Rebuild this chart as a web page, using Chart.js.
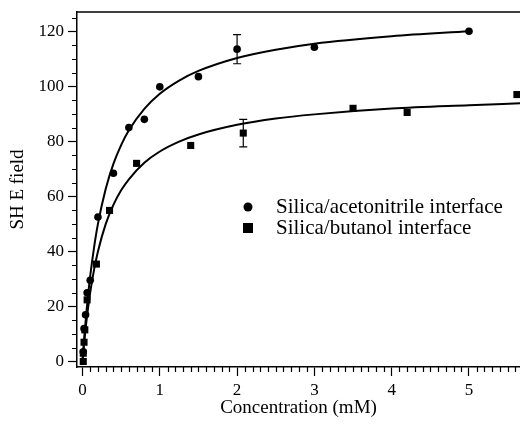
<!DOCTYPE html>
<html>
<head>
<meta charset="utf-8">
<script src="https://cdn.jsdelivr.net/npm/chart.js@4.4.1/dist/chart.umd.min.js"></script>
<style>
  html, body { margin: 0; padding: 0; background: #fff; }
  #wrap { width: 520px; height: 424px; }
</style>
</head>
<body>
<div id="wrap"><canvas id="shg" width="520" height="424"></canvas></div>
<script>
// measured points (concentration in mM, SH E field)
const acetoX   = [0.01, 0.02, 0.04, 0.06, 0.1, 0.2, 0.4, 0.6, 0.8, 1.0, 1.5, 2.0, 3.0, 5.0];
const acetoY   = [3.5, 12, 17, 25, 29.5, 52.5, 68.4, 85, 88, 99.8, 103.5, 113.5, 114.2, 120];
const acetoErr = [0, 0, 0, 0, 0, 0, 0, 0, 0, 0, 0, 5.3, 0, 0];

const butX   = [0.01, 0.01, 0.02, 0.03, 0.06, 0.18, 0.35, 0.7, 1.4, 2.08, 3.5, 4.2, 5.62];
const butY   = [0, 3, 7, 11.5, 22.4, 35.4, 54.9, 72, 78.5, 83, 92, 90.5, 97];
const butErr = [0, 0, 0, 0, 0, 0, 0, 0, 0, 5, 0, 0, 0];

// fitted isotherm curves
const fitX       = [0, 0.025, 0.05, 0.1, 0.15, 0.2, 0.3, 0.4, 0.5, 0.6, 0.8, 1.0, 1.25, 1.5, 2.0, 2.5, 3.0, 4.0, 5.0];
const acetoFit   = [0, 9.5, 17.7, 31.1, 41.5, 50.0, 62.7, 71.8, 78.6, 84.0, 91.8, 97.3, 102.1, 105.6, 110.3, 113.3, 115.5, 118.2, 120.0];
const butFitX    = [0, 0.025, 0.05, 0.1, 0.15, 0.2, 0.3, 0.4, 0.5, 0.6, 0.8, 1.0, 1.25, 1.5, 2.0, 2.5, 3.0, 4.0, 5.0, 5.66];
const butFit     = [0, 7.8, 14.4, 25.1, 33.4, 40.0, 49.9, 56.9, 62.2, 66.2, 72.2, 76.3, 79.9, 82.5, 86.0, 88.3, 89.8, 91.9, 93.1, 93.8];

const xTicks = [0, 1, 2, 3, 4, 5];
const yTicks = [0, 20, 40, 60, 80, 100, 120];
const legendLabels = ['Silica/acetonitrile interface', 'Silica/butanol interface'];

const FONT = "'Liberation Serif', 'Times New Roman', serif";
const pts = (xs, ys) => xs.map((x, i) => ({ x: x, y: ys[i] }));

// small ticks, top frame line, error bars and the in-plot legend
const extras = {
  id: 'extras',
  afterDatasetsDraw(chart) {
    const { ctx, chartArea: a, scales: { x, y } } = chart;
    ctx.save();
    ctx.strokeStyle = '#000';
    ctx.lineWidth = 1.2;
    ctx.beginPath();
    for (let v = 5; v <= 125; v += 5) {
      if (v % 20 === 0) continue;
      const py = Math.round(y.getPixelForValue(v)) + 0.5;
      ctx.moveTo(a.left - 5, py); ctx.lineTo(a.left, py);
    }
    for (let i = 1; i <= 56; i++) {
      if (i % 10 === 0) continue;
      const px = Math.round(x.getPixelForValue(i / 10)) + 0.5;
      ctx.moveTo(px, a.bottom); ctx.lineTo(px, a.bottom + 5);
    }
    ctx.stroke();

    ctx.lineWidth = 1.5;
    ctx.beginPath();
    ctx.moveTo(a.left, a.top); ctx.lineTo(a.right, a.top);
    ctx.stroke();

    // error bars
    ctx.lineWidth = 1.2;
    chart.data.datasets.forEach(ds => {
      if (!ds.errors) return;
      ds.data.forEach((p, i) => {
        const e = ds.errors[i];
        if (!e) return;
        const px = x.getPixelForValue(p.x);
        const hi = y.getPixelForValue(p.y + e);
        const lo = y.getPixelForValue(p.y - e);
        ctx.beginPath();
        ctx.moveTo(px, hi); ctx.lineTo(px, lo);
        ctx.moveTo(px - 4, hi); ctx.lineTo(px + 4, hi);
        ctx.moveTo(px - 4, lo); ctx.lineTo(px + 4, lo);
        ctx.stroke();
      });
    });

    // legend
    const lx = a.left + 171, ly = a.top + 195;
    ctx.fillStyle = '#000';
    ctx.beginPath();
    ctx.arc(lx, ly, 4.5, 0, Math.PI * 2);
    ctx.fill();
    ctx.fillRect(lx - 5, ly + 21 - 5, 10, 10);
    ctx.font = '21px ' + FONT;
    ctx.textBaseline = 'middle';
    ctx.fillText(legendLabels[0], lx + 28, ly);
    ctx.fillText(legendLabels[1], lx + 28, ly + 21);
    ctx.restore();
  }
};

new Chart(document.getElementById('shg'), {
  type: 'scatter',
  data: {
    datasets: [
      {
        label: legendLabels[0],
        data: pts(acetoX, acetoY),
        errors: acetoErr,
        pointStyle: 'circle',
        pointRadius: 3.8,
        backgroundColor: '#000',
        borderColor: '#000',
        borderWidth: 0,
        showLine: false
      },
      {
        label: legendLabels[1],
        data: pts(butX, butY),
        errors: butErr,
        pointStyle: 'rect',
        pointRadius: 5,
        backgroundColor: '#000',
        borderColor: '#000',
        borderWidth: 0,
        showLine: false
      },
      {
        label: 'fit1',
        data: pts(fitX, acetoFit),
        showLine: true,
        pointRadius: 0,
        borderColor: '#000',
        borderWidth: 2,
        cubicInterpolationMode: 'monotone'
      },
      {
        label: 'fit2',
        data: pts(butFitX, butFit),
        showLine: true,
        pointRadius: 0,
        borderColor: '#000',
        borderWidth: 2,
        cubicInterpolationMode: 'monotone'
      }
    ]
  },
  options: {
    responsive: false,
    animation: false,
    layout: { autoPadding: false, padding: { top: 12, right: 0, bottom: 0, left: 0 } },
    plugins: {
      legend: { display: false },
      tooltip: { enabled: false }
    },
    scales: {
      x: {
        type: 'linear',
        min: -0.071,
        max: 5.66,
        afterBuildTicks: s => { s.ticks = xTicks.map(v => ({ value: v })); },
        afterFit: s => { s.height = 57; s.paddingLeft = 0; s.paddingRight = 0; },
        border: { color: '#000', width: 1.5 },
        grid: { drawOnChartArea: false, color: '#000', tickLength: 9, tickWidth: 1.2 },
        ticks: { color: '#000', font: { family: FONT, size: 17 }, padding: 4, maxRotation: 0 },
        title: {
          display: true,
          text: 'Concentration (mM)',
          color: '#000',
          font: { family: FONT, size: 19 },
          padding: { top: 0, bottom: 5 }
        }
      },
      y: {
        type: 'linear',
        min: -2,
        max: 127,
        afterBuildTicks: s => { s.ticks = yTicks.map(v => ({ value: v })); },
        afterFit: s => { s.width = 77; s.paddingTop = 0; s.paddingBottom = 0; },
        border: { color: '#000', width: 1.5 },
        grid: { drawOnChartArea: false, color: '#000', tickLength: 9, tickWidth: 1.2 },
        ticks: { color: '#000', font: { family: FONT, size: 17 }, padding: 4 },
        title: {
          display: true,
          text: 'SH E field',
          color: '#000',
          font: { family: FONT, size: 19 },
          padding: { top: 7, bottom: 0 }
        }
      }
    }
  },
  plugins: [extras]
});
</script>
</body>
</html>
